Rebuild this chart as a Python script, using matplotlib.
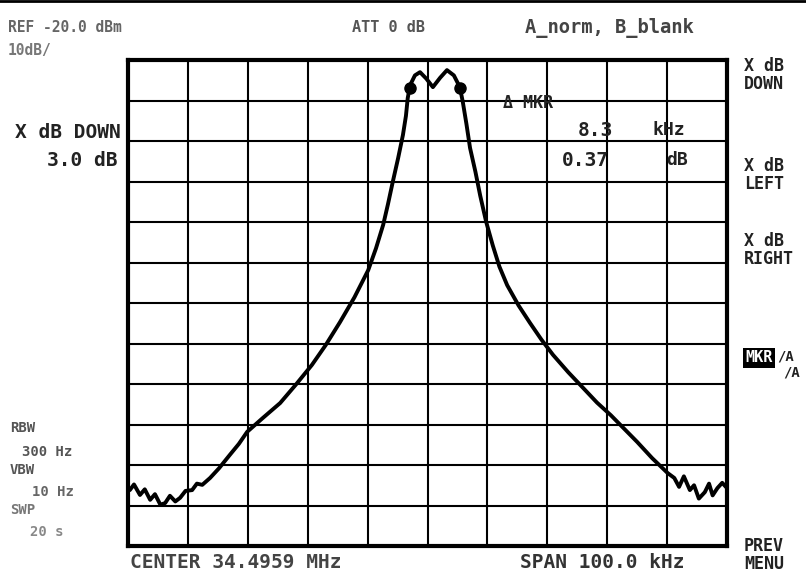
import matplotlib
matplotlib.use('Agg')
import matplotlib.pyplot as plt
import numpy as np

# trace: offset from center (kHz) and level (dBm)
freq_khz = [-50.0, -49.7, -49.0, -48.0, -47.2, -46.3, -45.5, -44.6, -43.8, -43.0, -42.1,
            -41.3, -40.4, -39.3, -38.5, -37.6, -36.3, -34.8, -33.0, -31.5, -30.1,
            -27.5, -24.6, -22.0, -19.3, -17.0, -14.6, -12.2, -9.9, -8.6, -7.4,
            -6.6, -5.8, -4.9, -4.1, -3.6, -3.3, -2.9, -2.1, -1.25, -0.2, 0.9,
            2.1, 3.25, 4.4, 5.4, 5.9, 6.5, 7.1, 8.0, 8.8, 9.8, 10.9, 12.0, 13.3,
            15.2, 17.1, 19.0, 20.95, 23.5, 26.0, 28.3, 30.6, 32.8, 35.0, 37.5,
            40.1, 41.2, 42.0, 42.8, 43.8, 44.5, 45.3, 46.3, 47.0, 47.6, 48.4,
            49.2, 50.0]
level_dbm = [-125.5, -126.2, -124.8, -127.4, -126.0, -128.6, -127.2, -129.8, -129.4, -127.6, -129.0,
             -128.1, -126.4, -126.2, -124.6, -124.9, -123.2, -120.8, -117.5, -114.8, -111.8,
             -108.4, -104.7, -100.2, -95.3, -90.4, -84.7, -78.6, -71.9, -66.5, -60.7,
             -55.6, -50.1, -44.2, -38.5, -33.8, -29.4, -26.2, -23.8, -23.0, -24.6, -26.7,
             -24.4, -22.5, -23.8, -26.7, -30.4, -35.8, -41.7, -47.6, -53.5, -60.0, -65.8,
             -71.0, -75.6, -80.6, -84.9, -89.0, -92.8, -97.1, -101.0, -104.6, -107.7,
             -111.0, -114.3, -118.3, -122.0, -123.2, -125.4, -122.8, -126.2, -125.0,
             -128.3, -126.7, -124.6, -127.5, -125.7, -124.4, -125.7]

# delta marker pair
mkr_khz = [-2.9, 5.4]
mkr_dbm = [-27.0, -27.0]

ref_dbm = -20
bottom_dbm = -140
span_khz = 100

W, H = 806, 586
fig = plt.figure(figsize=(W / 100, H / 100), dpi=100)
fig.patch.set_facecolor('white')

ax = fig.add_axes([128 / W, 1 - 546 / H, 599 / W, 486 / H])
ax.plot(freq_khz, level_dbm, color='black', lw=2.8, solid_joinstyle='round')
ax.plot(mkr_khz, mkr_dbm, 'o', color='black', markersize=8)
ax.set_xlim(-span_khz / 2, span_khz / 2)
ax.set_ylim(bottom_dbm, ref_dbm)
ax.set_xticks(np.arange(-50, 51, 10))
ax.set_yticks(np.arange(bottom_dbm, ref_dbm + 1, 10))
ax.grid(True, color='black', lw=1.5)
ax.tick_params(length=0, labelbottom=False, labelleft=False)
for s in ax.spines.values():
    s.set_linewidth(3)
    s.set_color('black')

fam = 'DejaVu Sans Mono'


def txt(x, y, s, size=12, color='#222222', **kw):
    fig.text(x / W, 1 - y / H, s, fontsize=size, family=fam, weight='bold',
             color=color, va='center', ha='left', **kw)


# header
txt(8, 28, 'REF -20.0 dBm', 10.5, '#666666')
txt(8, 50, '10dB/', 10.5, '#777777')
txt(352, 28, 'ATT 0 dB', 11, '#555555')
txt(525, 28, 'A_norm, B_blank', 13.5, '#444444')

# marker readout
txt(15, 132, 'X dB DOWN', 14)
txt(47, 160, '3.0 dB', 14)
txt(503, 103, '\u0394 MKR', 12)
txt(578, 130, '8.3', 14)
txt(652, 130, 'kHz', 13)
txt(562, 160, '0.37', 14)
txt(666, 160, 'dB', 13)

# softkeys
txt(744, 75, 'X dB\nDOWN', 12, linespacing=1.0)
txt(744, 175, 'X dB\nLEFT', 12, linespacing=1.0)
txt(744, 250, 'X dB\nRIGHT', 12, linespacing=1.0)
fig.text(745 / W, 1 - 358 / H, 'MKR', fontsize=11, family=fam, weight='bold', color='white',
         va='center', ha='left', bbox=dict(facecolor='black', edgecolor='none', pad=1.5))
txt(777, 357, '/A', 10)
txt(783, 373, '/A', 10)
txt(744, 555, 'PREV\nMENU', 12, linespacing=1.0)

# settings, lower left
txt(10, 428, 'RBW', 10, '#555555')
txt(22, 452, '300 Hz', 10, '#555555')
txt(10, 470, 'VBW', 10, '#555555')
txt(32, 492, '10 Hz', 10, '#666666')
txt(10, 510, 'SWP', 10, '#777777')
txt(30, 532, '20 s', 10, '#888888')

# footer
txt(130, 563, 'CENTER 34.4959 MHz', 14, '#444444')
txt(520, 563, 'SPAN 100.0 kHz', 14, '#333333')

fig.add_artist(plt.Line2D([0, 1], [1 - 1 / H, 1 - 1 / H], color='black', lw=2))

fig.savefig('out.png', dpi=100)
